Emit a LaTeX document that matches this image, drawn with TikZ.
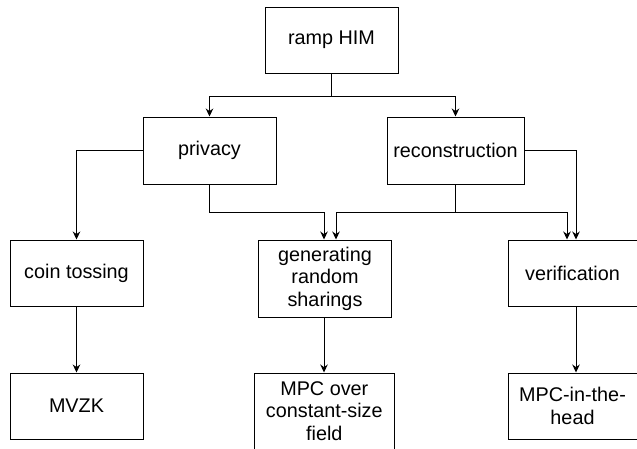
\documentclass[tikz,border=0pt]{standalone}
\usepackage{fontspec}
\setmainfont{Liberation Sans}
\usetikzlibrary{arrows.meta}

\begin{document}
\begin{tikzpicture}[x=1pt, y=-1pt, >={Stealth[length=8pt, width=7.5pt]},
  box/.style={draw, line width=1pt, inner sep=0pt, align=center,
    minimum width=133, minimum height=66,
    font=\fontsize{19.8}{22.5}\selectfont},
  link/.style={->, line width=1pt}]
  \useasboundingbox (0,0) rectangle (637,448);
  % top two levels
  \node[box] (ramp) at (331.5,40) {ramp HIM};
  \node[box, minimum height=67] (privacy) at (209.5,150.5) {privacy};
  \node[box, minimum width=137, minimum height=67] (recon) at (455.5,150.5) {reconstruction};
  % tools
  \node[box] (coin) at (76.5,273) {coin tossing};
  \node[box, minimum height=77] (gen) at (325,278.5) {generating\\random\\sharings};
  \node[box, minimum width=129] (verif) at (572.5,273) {verification};
  % applications
  \node[box] (mvzk) at (76.5,406) {MVZK};
  \node[box, minimum width=140, minimum height=76] (mpcfield) at (324.3,411) {MPC over\\constant-size\\field};
  \node[box, minimum width=129] (mpchead) at (572.5,406) {MPC-in-the-\\head};

  \draw[link] (ramp.south) -- ++(0,23) -| (privacy.north);
  \draw[link] (ramp.south) -- ++(0,23) -| (recon.north);
  \draw[link] (privacy.west) -| (coin.north);
  \draw[link] (privacy.south) -- ++(0,28) -| ([xshift=-1pt]gen.north);
  \draw[link] (recon.south) -- ++(0,28) -| ([xshift=11pt]gen.north);
  \draw[link] (recon.south) -- ++(0,28) -| ([xshift=-5.5pt]verif.north);
  \draw[link] (recon.east) -| ([xshift=3.5pt]verif.north);
  \foreach \a/\b/\s in {coin/mvzk/0, gen/mpcfield/-1, verif/mpchead/3.5}
    \draw[link] ([xshift=\s pt]\a.south) -- ([xshift=\s pt]\a.south |- \b.north);
\end{tikzpicture}
\end{document}
